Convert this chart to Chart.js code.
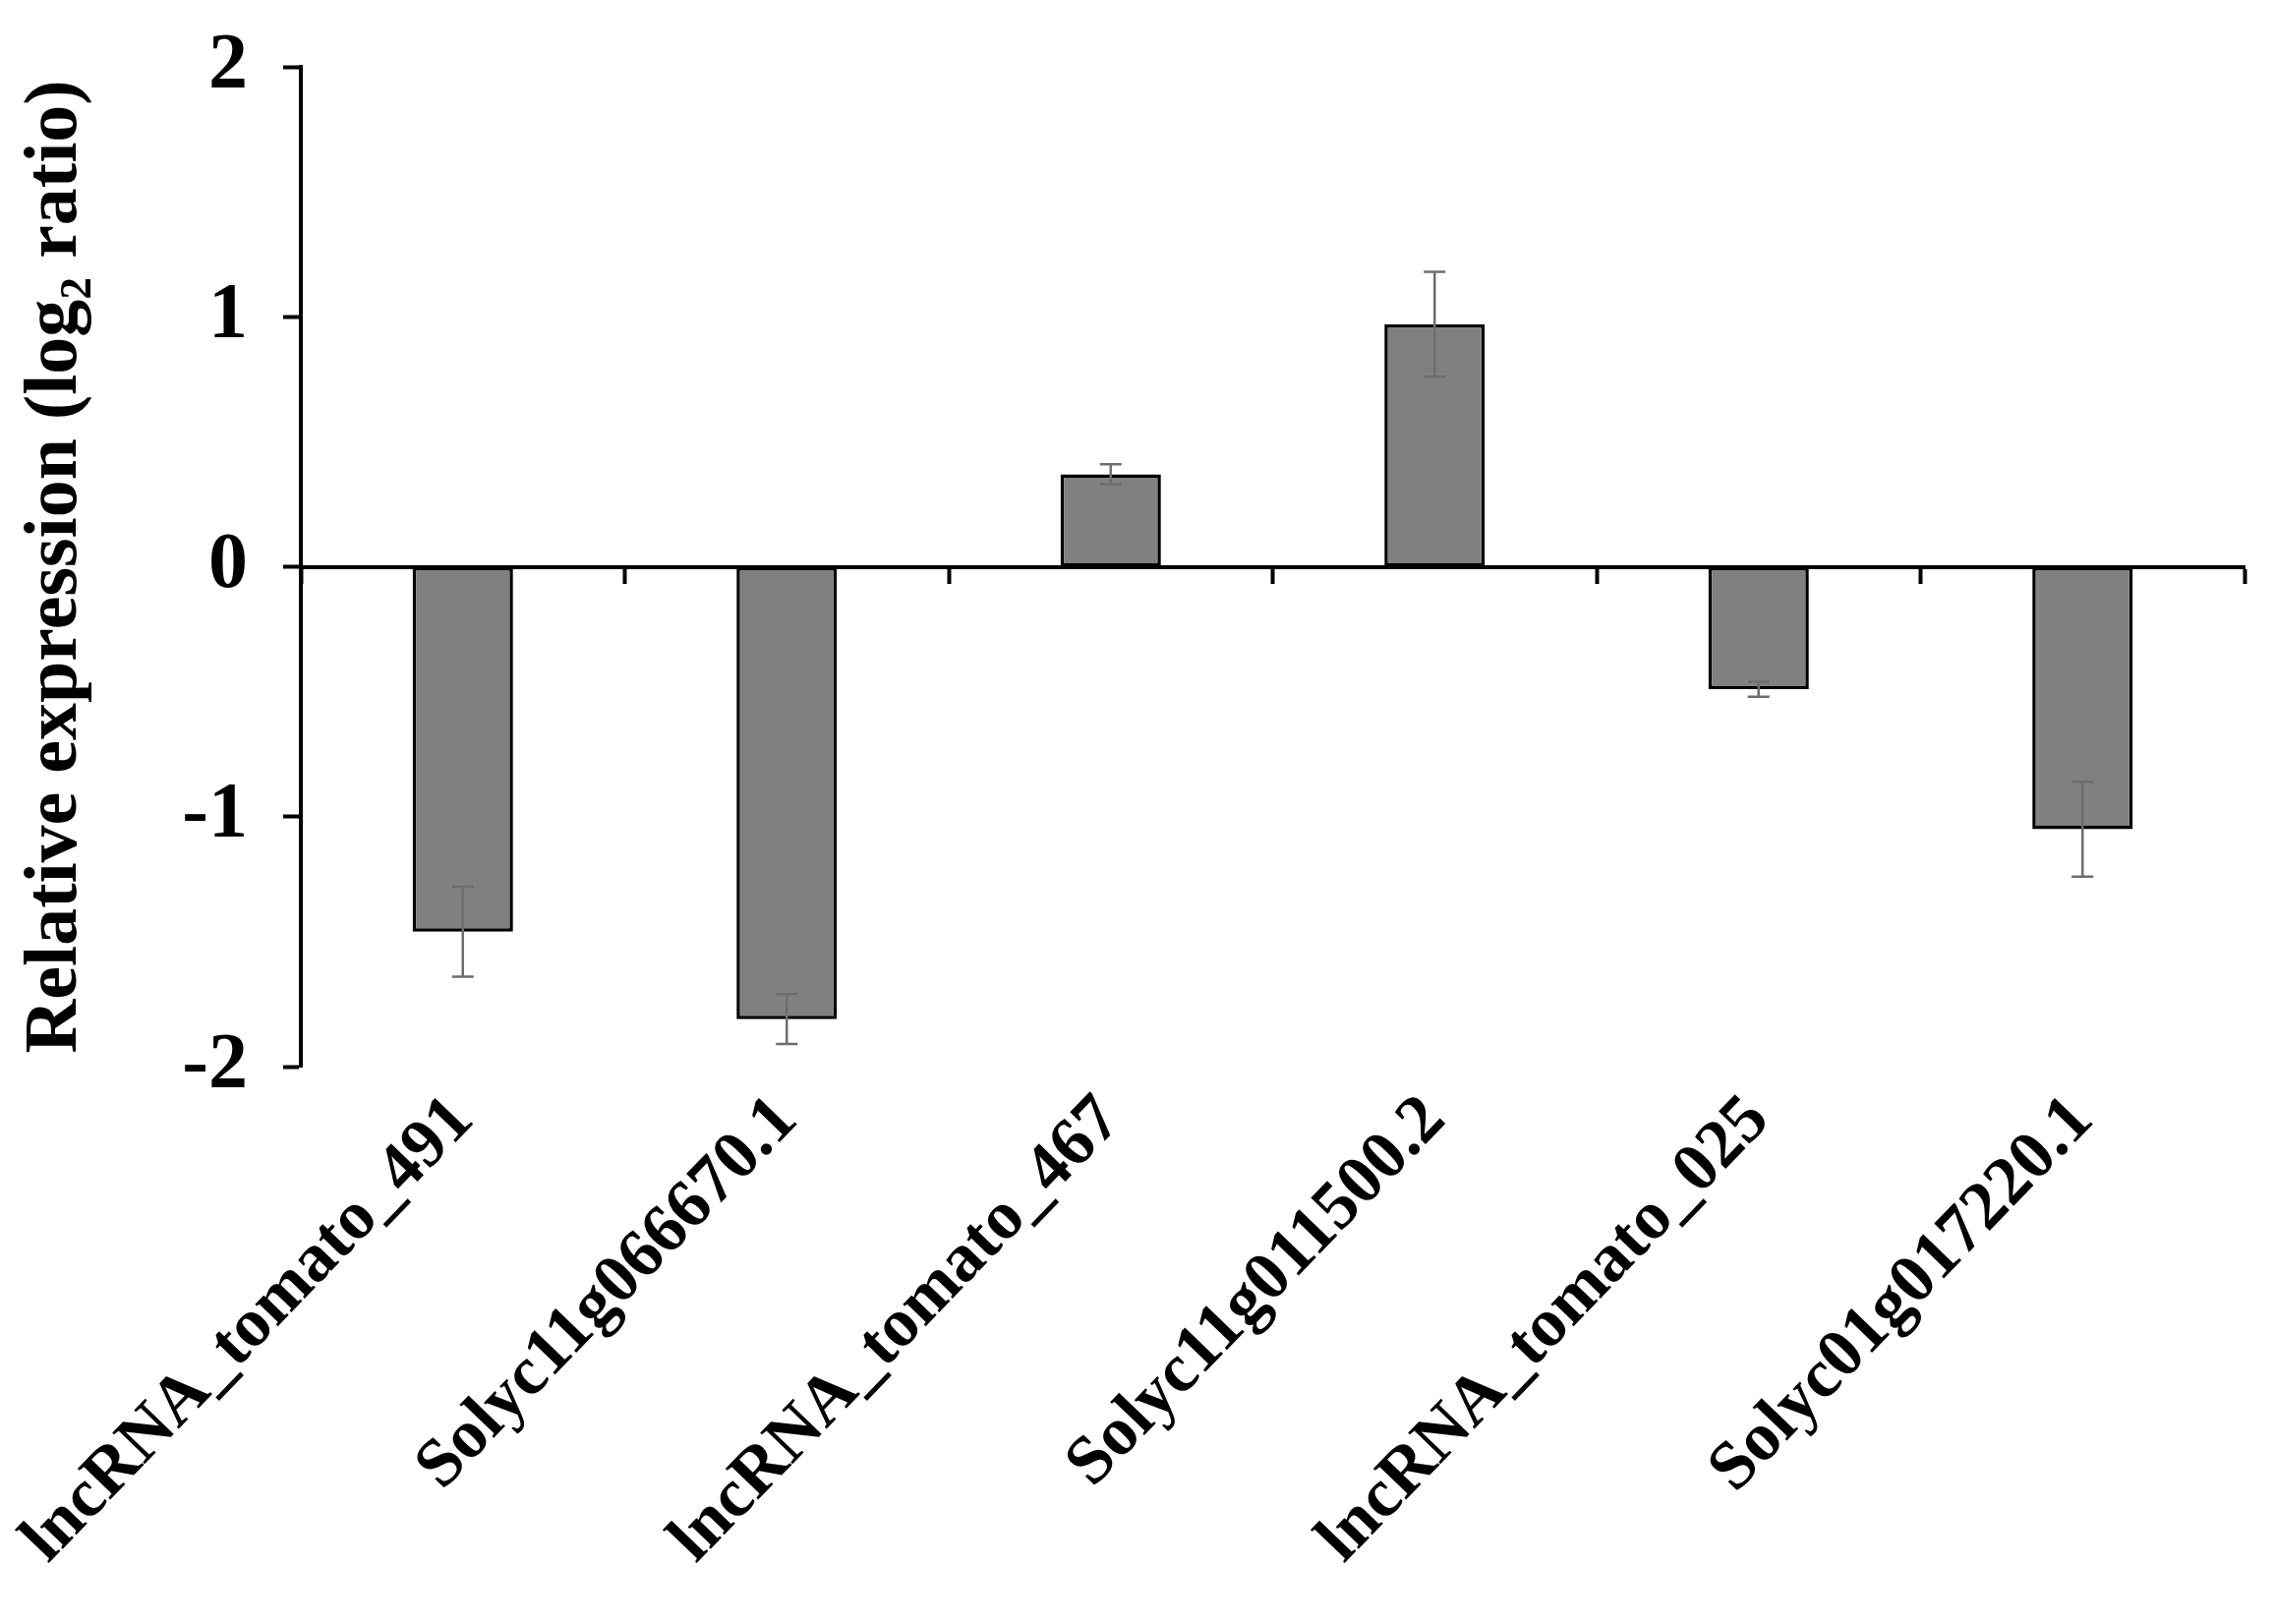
<!DOCTYPE html>
<html>
<head>
<meta charset="utf-8">
<script src="https://cdn.jsdelivr.net/npm/chart.js@4"></script>
<style>
  html, body { margin: 0; padding: 0; background: #fff; }
  #wrap { width: 2313px; height: 1652px; }
</style>
</head>
<body>
<div id="wrap"><canvas id="grafico"></canvas></div>
<script>
const genes = ['lncRNA_tomato_491', 'Solyc11g066670.1', 'lncRNA_tomato_467',
               'Solyc11g011500.2', 'lncRNA_tomato_025', 'Solyc01g017220.1'];
const expresion = [-1.46, -1.81, 0.37, 0.97, -0.49, -1.05];
const errores = [0.18, 0.10, 0.04, 0.21, 0.03, 0.19];
const marcasY = [-2, -1, 0, 1, 2];

// barras de error dibujadas con las escalas del grafico
const barrasError = {
  id: 'barrasError',
  afterDatasetsDraw(chart) {
    const ctx = chart.ctx;
    const y = chart.scales.y;
    const meta = chart.getDatasetMeta(0);
    ctx.save();
    ctx.strokeStyle = '#6e6e6e';
    ctx.lineWidth = 2.5;
    meta.data.forEach((bar, i) => {
      const v = expresion[i], e = errores[i];
      const yTop = y.getPixelForValue(v + e);
      const yBot = y.getPixelForValue(v - e);
      ctx.beginPath();
      ctx.moveTo(bar.x, yTop); ctx.lineTo(bar.x, yBot);
      ctx.moveTo(bar.x - 11, yTop); ctx.lineTo(bar.x + 11, yTop);
      ctx.moveTo(bar.x - 11, yBot); ctx.lineTo(bar.x + 11, yBot);
      ctx.stroke();
    });
    ctx.restore();
  }
};

const ctx = document.getElementById('grafico');
new Chart(ctx, {
  type: 'bar',
  data: {
    labels: genes,
    datasets: [{
      data: expresion,
      backgroundColor: '#808080',
      borderColor: '#000',
      borderWidth: 3.5,
      borderSkipped: false,
      barPercentage: 0.31,
      categoryPercentage: 1
    }]
  },
  options: {
    responsive: true,
    maintainAspectRatio: false,
    animation: false,
    devicePixelRatio: 1,
    layout: { padding: { top: 68, right: 30, left: 0, bottom: 0 } },
    plugins: { legend: { display: false }, tooltip: { enabled: false } },
    scales: {
      x: {
        type: 'category',
        offset: true,
        border: { display: false },
        grid: { display: false },
        ticks: {
          autoSkip: false,
          minRotation: 46,
          maxRotation: 46,
          padding: 6,
          color: '#000',
          font: { family: 'Liberation Serif', size: 70, weight: 'bold' }
        },
        afterFit(scale) {
          scale.height = 567;
          scale.paddingLeft = 0;
          scale.paddingRight = 0;
        }
      },
      cero: {
        type: 'category',
        axis: 'x',
        labels: genes,
        offset: true,
        position: { y: 0 },
        z: 1,
        border: { display: true, color: '#000', width: 4 },
        grid: { display: true, drawOnChartArea: false, offset: true, color: '#000', tickLength: 15, tickWidth: 4 },
        ticks: { display: false }
      },
      y: {
        min: -2,
        max: 2,
        afterBuildTicks(scale) { scale.ticks = marcasY.map(v => ({ value: v })); },
        border: { display: true, color: '#000', width: 4 },
        grid: { display: true, drawOnChartArea: false, color: '#000', tickLength: 18, tickWidth: 4 },
        ticks: {
          padding: 36,
          color: '#000',
          font: { family: 'Liberation Serif', size: 80, weight: 'bold' }
        },
        title: {
          display: true,
          text: 'Relative expression (log\u2082 ratio)',
          color: '#000',
          padding: { top: 12, bottom: 0 },
          font: { family: 'Liberation Serif', size: 76, weight: 'bold' }
        },
        afterFit(scale) {
          scale.width = 306;
          scale.paddingTop = 0;
          scale.paddingBottom = 0;
        }
      }
    }
  },
  plugins: [barrasError]
});
</script>
</body>
</html>
